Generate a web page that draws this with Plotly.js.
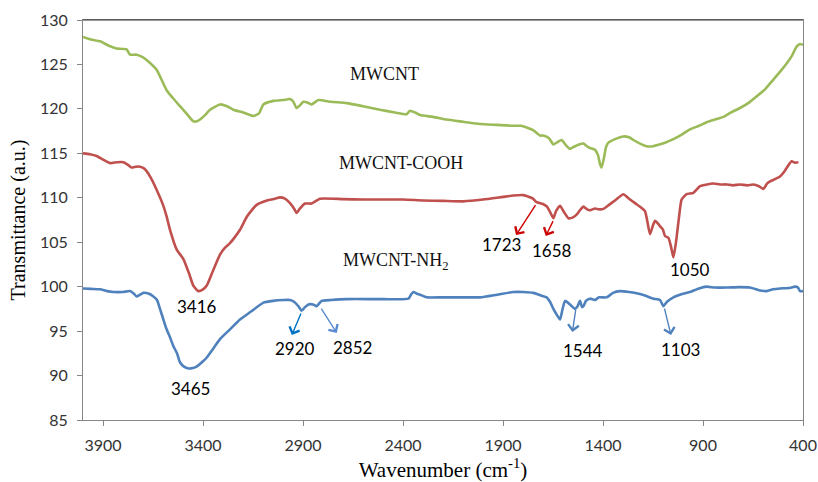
<!DOCTYPE html>
<html>
<head>
<meta charset="utf-8">
<script src="https://cdn.plot.ly/plotly-3.0.1.min.js"></script>
<style>html,body{margin:0;padding:0;background:#fff;}#chart{width:818px;height:482px;}</style>
</head>
<body>
<div id="chart"></div>
<script>
// MWCNT (green)
const mwcntWn = [4000,3960,3915,3870,3832,3782,3765,3732,3700,3682,3632,3582,3550,3515,3480,3448,3430,3415,3390,3365,3315,3280,3248,3200,3148,3120,3098,3048,2998,2965,2948,2932,2915,2898,2875,2857,2823,2760,2682,2600,2515,2440,2382,2365,2340,2315,2250,2182,2100,2015,1930,1848,1810,1782,1750,1732,1715,1698,1670,1648,1625,1607,1585,1565,1540,1520,1498,1480,1465,1440,1425,1415,1407,1395,1385,1373,1340,1298,1270,1248,1215,1182,1150,1132,1090,1048,1000,965,920,882,840,798,760,715,670,632,590,548,510,482,455,432,415,400];
const mwcntT = [128.1,127.8,127.6,127.1,126.8,126.7,126.1,126.1,125.8,125.5,124.4,122.1,121.2,120.3,119.4,118.6,118.6,118.8,119.3,119.9,120.5,120.3,119.9,119.6,119.2,119.5,120.5,120.9,121.0,121.1,120.8,120.1,120.4,120.8,120.7,120.5,121.0,120.8,120.65,120.3,119.9,119.6,119.4,119.8,119.6,119.3,119.1,118.8,118.55,118.3,118.2,118.1,118.1,117.9,117.6,117.3,117.0,117.0,116.7,116.0,116.3,116.5,115.9,115.5,115.8,116.0,116.1,115.8,115.6,115.4,114.8,113.8,113.4,114.5,115.7,116.2,116.6,116.9,116.8,116.5,116.1,115.8,115.8,115.9,116.2,116.6,117.2,117.7,118.1,118.5,118.8,119.1,119.6,120.1,120.7,121.4,122.2,123.3,124.3,125.1,126.0,127.0,127.3,127.2];

// MWCNT-COOH (red)
const coohWn = [4000,3965,3932,3900,3865,3830,3798,3775,3757,3735,3715,3695,3682,3660,3632,3600,3582,3565,3532,3498,3470,3448,3423,3400,3382,3350,3315,3290,3265,3240,3215,3180,3132,3080,3040,3015,2990,2965,2945,2932,2915,2890,2857,2815,2700,2600,2515,2400,2300,2200,2098,2000,1900,1848,1800,1782,1750,1732,1700,1680,1660,1648,1635,1615,1595,1573,1550,1532,1515,1498,1480,1465,1440,1420,1398,1370,1340,1298,1270,1240,1215,1190,1178,1165,1150,1140,1125,1115,1100,1090,1073,1060,1048,1035,1020,1007,982,948,915,880,848,815,782,750,715,680,648,620,598,580,565,540,515,495,482,457,440,423];
const coohT = [115.0,114.9,114.7,114.3,113.9,114.0,114.0,113.7,113.4,113.5,113.5,113.3,113.0,112.2,110.9,109.2,107.9,106.4,104.2,103.1,101.5,100.1,99.5,99.7,100.1,101.8,103.6,104.4,104.9,105.6,106.4,107.9,109.2,109.7,109.9,110.05,109.9,109.4,108.8,108.3,108.8,109.35,109.35,109.9,109.85,109.8,109.8,109.8,109.7,109.65,109.6,109.8,110.1,110.25,110.3,110.2,109.9,109.5,109.3,109.0,108.2,107.7,108.5,109.1,108.4,107.7,107.8,108.1,108.6,109.0,108.7,108.6,108.8,108.7,108.75,109.2,109.7,110.4,109.9,109.4,109.0,108.5,107.3,105.9,106.9,107.4,107.1,106.8,106.4,105.7,105.5,104.5,103.3,105.0,107.8,109.8,110.4,110.55,111.3,111.5,111.6,111.5,111.5,111.4,111.5,111.4,111.5,111.3,111.0,111.6,111.85,112.1,112.4,112.9,113.35,114.1,113.95,114.0];

// MWCNT-NH2 (blue)
const nh2Wn = [4000,3960,3915,3880,3848,3800,3765,3745,3732,3715,3698,3670,3648,3630,3615,3598,3582,3565,3548,3530,3515,3495,3473,3450,3432,3400,3382,3350,3315,3265,3215,3160,3098,3050,2998,2965,2945,2923,2907,2890,2873,2850,2832,2807,2760,2682,2500,2373,2360,2348,2330,2315,2282,2200,2100,2015,1930,1848,1800,1748,1710,1682,1665,1648,1630,1615,1603,1590,1565,1540,1527,1515,1505,1498,1485,1465,1440,1420,1382,1350,1315,1270,1232,1190,1148,1115,1098,1080,1048,1000,965,920,882,840,782,720,665,620,582,550,515,470,440,425,415,400];
const nh2T = [99.8,99.75,99.7,99.5,99.4,99.4,99.5,99.2,98.9,99.1,99.3,99.2,98.9,98.5,97.5,96.3,95.2,94.3,93.3,92.5,91.5,91.0,90.8,90.85,91.0,91.6,92.0,93.0,94.1,95.2,96.3,97.2,98.2,98.4,98.5,98.5,98.3,97.8,97.3,97.7,98.0,98.0,97.8,98.4,98.5,98.6,98.6,98.65,99.1,99.4,99.2,99.1,98.8,98.8,98.8,98.8,99.1,99.4,99.4,99.3,99.0,98.8,98.3,97.5,96.8,96.3,97.4,98.4,98.0,97.5,97.8,98.4,97.7,97.8,98.4,98.65,98.5,98.8,98.8,99.3,99.5,99.4,99.25,99.0,98.65,98.5,97.8,98.3,98.8,99.2,99.4,99.8,100.0,99.9,99.9,99.95,99.9,99.6,99.5,99.7,99.8,99.85,100.0,99.9,99.5,99.5];

// Axis ticks
const xTicks = [3900,3400,2900,2400,1900,1400,900,400];
const yTicks = [85,90,95,100,105,110,115,120,125,130];

// Series labels [text, wavenumber, value]
const seriesLabels = [
  ['MWCNT', 2495, 123.9],
  ['MWCNT-COOH', 2410, 113.9],
  ['MWCNT-NH<sub>2</sub>', 2435, 102.8]
];
// Peak labels [text, wavenumber, value]
const peakLabels = [
  ['3416', 3431, 97.8],
  ['3465', 3465, 88.6],
  ['2920', 2940, 93.1],
  ['2852', 2655, 93.2],
  ['1723', 1906, 104.7],
  ['1658', 1656, 104.1],
  ['1050', 965, 101.95],
  ['1544', 1501, 92.8],
  ['1103', 1015, 92.95]
];
// Arrows [tailWn, tailT, headWn, headT, colour]
const peakArrows = [
  [1731, 109.4, 1835, 105.8, '#cc0000'],
  [1645, 107.6, 1686, 105.7, '#cc0000'],
  [2906, 97.2, 2956, 94.55, '#0070c0'],
  [2815, 97.75, 2731, 94.8, '#5b8bd0'],
  [1535, 97.6, 1553, 94.9, '#4f81bd'],
  [1095, 97.75, 1060, 94.55, '#4f81bd']
];

const lineStyle = (c) => ({color: c, width: 2.6, shape: 'spline', smoothing: 0.5});
const traces = [
  {x: mwcntWn, y: mwcntT, type: 'scatter', mode: 'lines', name: 'MWCNT', line: lineStyle('#9bbb59')},
  {x: coohWn, y: coohT, type: 'scatter', mode: 'lines', name: 'MWCNT-COOH', line: lineStyle('#c0504d')},
  {x: nh2Wn, y: nh2T, type: 'scatter', mode: 'lines', name: 'MWCNT-NH2', line: lineStyle('#4f81bd')}
];

const annotations = [];
seriesLabels.forEach(s => annotations.push({
  text: s[0], x: s[1], y: s[2], xref: 'x', yref: 'y', showarrow: false,
  font: {family: '"Liberation Serif", "Times New Roman", serif', size: 18, color: '#111'}
}));
peakLabels.forEach(p => annotations.push({
  text: p[0], x: p[1], y: p[2], xref: 'x', yref: 'y', showarrow: false,
  font: {family: 'Lato, "Open Sans", sans-serif', size: 17, color: '#000'}
}));
peakArrows.forEach(a => annotations.push({
  text: ' ', x: a[2], y: a[3], ax: a[0], ay: a[1], xref: 'x', yref: 'y', axref: 'x', ayref: 'y',
  font: {size: 1},
  showarrow: true, arrowhead: 4, arrowsize: 1.5, arrowwidth: 1.4, arrowcolor: a[4], standoff: 0, startstandoff: 0
}));

const layout = {
  width: 818, height: 482,
  margin: {l: 83, r: 15, t: 20, b: 62},
  paper_bgcolor: '#fff', plot_bgcolor: '#fff',
  showlegend: false,
  xaxis: {
    range: [4000, 400], tickvals: xTicks, ticktext: xTicks.map(String),
    showgrid: false, zeroline: false, showline: true, linecolor: '#868686', linewidth: 1, mirror: true,
    ticks: 'outside', ticklen: 5, tickcolor: '#868686', ticklabelstandoff: 6,
    tickfont: {family: 'Lato, "Open Sans", sans-serif', size: 16, color: '#333'},
    title: {text: 'Wavenumber (cm<sup>-1</sup>)', standoff: 10,
      font: {family: '"Liberation Serif", "Times New Roman", serif', size: 21, color: '#000'}}
  },
  yaxis: {
    range: [85, 130], tickvals: yTicks, ticktext: yTicks.map(String),
    showgrid: false, zeroline: false, showline: true, linecolor: '#868686', linewidth: 1, mirror: true,
    ticks: 'outside', ticklen: 5, tickcolor: '#868686', ticklabelstandoff: 6,
    tickfont: {family: 'Lato, "Open Sans", sans-serif', size: 16, color: '#333'},
    title: {text: 'Transmittance (a.u.)', standoff: 8,
      font: {family: '"Liberation Serif", "Times New Roman", serif', size: 20, color: '#000'}}
  },
  shapes: [{type: 'line', xref: 'paper', yref: 'paper', x0: 0, x1: 1, y0: 1, y1: 1, line: {color: '#333', width: 1.2}}],
  annotations: annotations
};

Plotly.newPlot('chart', traces, layout, {displayModeBar: false, staticPlot: true});
</script>
</body>
</html>
